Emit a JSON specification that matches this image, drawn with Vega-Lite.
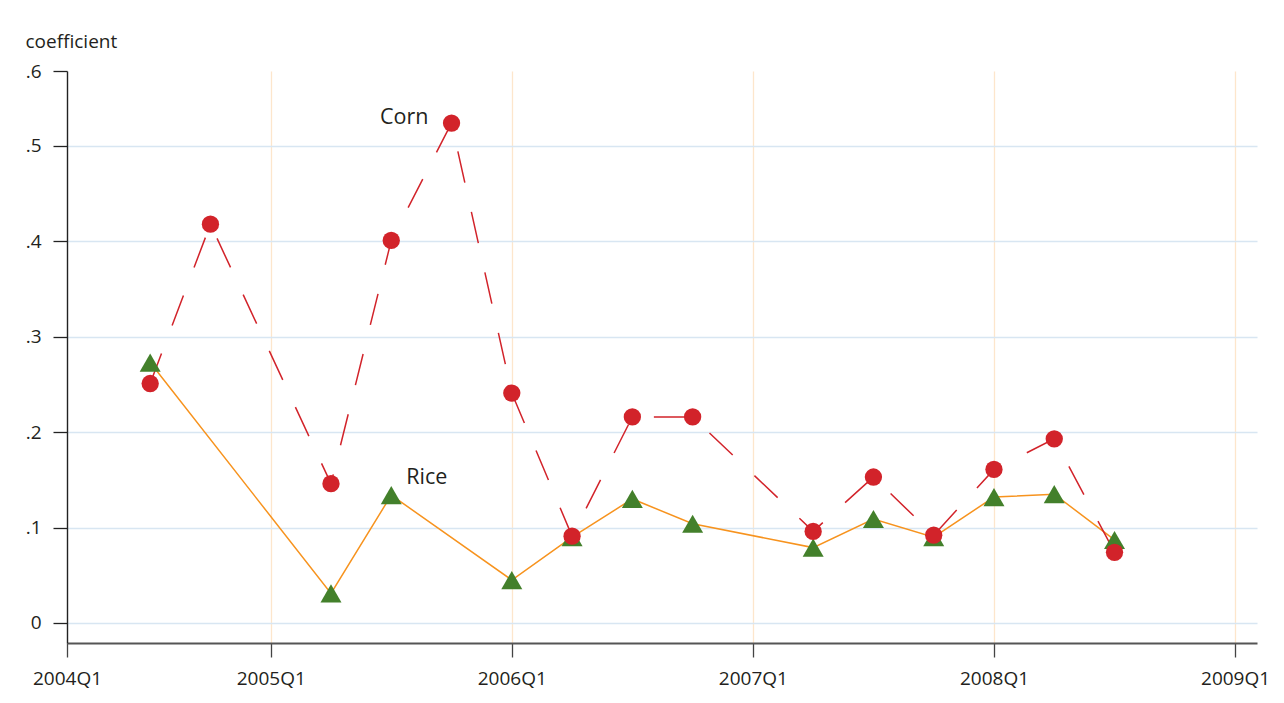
{
  "$schema": "https://vega.github.io/schema/vega-lite/v6.json",
  "width": 1190,
  "height": 572,
  "autosize": {"type": "none"},
  "padding": {"left": 67, "top": 71, "right": 27, "bottom": 60},
  "background": "white",
  "config": {
    "view": {"stroke": null},
    "font": "Open Sans",
    "axis": {"labelFont": "Open Sans", "titleFont": "Open Sans", "labelColor": "#231f20", "titleColor": "#231f20"}
  },
  "data": {
    "values": [
      {"quarter": "2004Q3", "t": 2004.5, "series": "Corn", "value": 0.251},
      {"quarter": "2004Q4", "t": 2004.75, "series": "Corn", "value": 0.418},
      {"quarter": "2005Q2", "t": 2005.25, "series": "Corn", "value": 0.146},
      {"quarter": "2005Q3", "t": 2005.5, "series": "Corn", "value": 0.401},
      {"quarter": "2005Q4", "t": 2005.75, "series": "Corn", "value": 0.524},
      {"quarter": "2006Q1", "t": 2006.0, "series": "Corn", "value": 0.241},
      {"quarter": "2006Q2", "t": 2006.25, "series": "Corn", "value": 0.091},
      {"quarter": "2006Q3", "t": 2006.5, "series": "Corn", "value": 0.216},
      {"quarter": "2006Q4", "t": 2006.75, "series": "Corn", "value": 0.216},
      {"quarter": "2007Q2", "t": 2007.25, "series": "Corn", "value": 0.096},
      {"quarter": "2007Q3", "t": 2007.5, "series": "Corn", "value": 0.153},
      {"quarter": "2007Q4", "t": 2007.75, "series": "Corn", "value": 0.092},
      {"quarter": "2008Q1", "t": 2008.0, "series": "Corn", "value": 0.161},
      {"quarter": "2008Q2", "t": 2008.25, "series": "Corn", "value": 0.193},
      {"quarter": "2008Q3", "t": 2008.5, "series": "Corn", "value": 0.074},
      {"quarter": "2004Q3", "t": 2004.5, "series": "Rice", "value": 0.273},
      {"quarter": "2005Q2", "t": 2005.25, "series": "Rice", "value": 0.031},
      {"quarter": "2005Q3", "t": 2005.5, "series": "Rice", "value": 0.134},
      {"quarter": "2006Q1", "t": 2006.0, "series": "Rice", "value": 0.045},
      {"quarter": "2006Q2", "t": 2006.25, "series": "Rice", "value": 0.09},
      {"quarter": "2006Q3", "t": 2006.5, "series": "Rice", "value": 0.13},
      {"quarter": "2006Q4", "t": 2006.75, "series": "Rice", "value": 0.104},
      {"quarter": "2007Q2", "t": 2007.25, "series": "Rice", "value": 0.079},
      {"quarter": "2007Q3", "t": 2007.5, "series": "Rice", "value": 0.109},
      {"quarter": "2007Q4", "t": 2007.75, "series": "Rice", "value": 0.09},
      {"quarter": "2008Q1", "t": 2008.0, "series": "Rice", "value": 0.132},
      {"quarter": "2008Q2", "t": 2008.25, "series": "Rice", "value": 0.135},
      {"quarter": "2008Q3", "t": 2008.5, "series": "Rice", "value": 0.087}
    ]
  },
  "encoding": {
    "x": {
      "field": "t",
      "type": "quantitative",
      "scale": {"domain": [2004.155, 2009.091], "nice": false, "zero": false},
      "axis": {
        "title": null,
        "values": [2004.155, 2005, 2006, 2007, 2008, 2009],
        "labelExpr": "floor(datum.value) + 'Q1'",
        "labelFontSize": 19,
        "labelPadding": 12,
        "tickSize": 14,
        "tickColor": "#444444",
        "tickWidth": 1.3,
        "domainColor": "#555555",
        "domainWidth": 1.8,
        "grid": true,
        "gridColor": {"condition": {"test": "datum.value < 2004.5", "value": "transparent"}, "value": "#fde6cc"},
        "gridWidth": 1.3,
        "labelFlush": false,
        "labelOverlap": false
      }
    },
    "y": {
      "field": "value",
      "type": "quantitative",
      "scale": {"domain": [-0.021, 0.5786], "nice": false, "zero": false},
      "axis": {
        "title": "coefficient",
        "titleAngle": 0,
        "titleAlign": "left",
        "titleBaseline": "alphabetic",
        "titleX": -42,
        "titleY": -24,
        "titleFontSize": 19,
        "titleFontWeight": "normal",
        "values": [0, 0.1, 0.2, 0.3, 0.4, 0.5, 0.5786],
        "labelExpr": "datum.value == 0 ? '0' : (datum.value > 0.55 ? '.6' : replace(format(datum.value, '.1f'), '0.', '.'))",
        "labelFontSize": 19,
        "labelPadding": 12,
        "tickSize": 14,
        "tickColor": "#222222",
        "tickWidth": 1.3,
        "domainColor": "#222222",
        "domainWidth": 1.4,
        "grid": true,
        "gridColor": {"condition": {"test": "datum.value > 0.55", "value": "transparent"}, "value": "#d8e6f2"},
        "gridWidth": 1.3,
        "labelFlush": false,
        "labelOverlap": false
      }
    }
  },
  "layer": [
    {
      "transform": [{"filter": "datum.series == 'Rice'"}],
      "mark": {"type": "line", "color": "#f7931e", "strokeWidth": 1.5},
      "encoding": {}
    },
    {
      "transform": [{"filter": "datum.series == 'Corn'"}],
      "mark": {"type": "line", "color": "#d2232a", "strokeWidth": 1.5, "strokeDash": [32, 30]},
      "encoding": {}
    },
    {
      "transform": [{"filter": "datum.series == 'Rice'"}],
      "mark": {"type": "point", "shape": "triangle-up", "filled": true, "size": 441, "color": "#43802b", "opacity": 1},
      "encoding": {}
    },
    {
      "transform": [{"filter": "datum.series == 'Corn'"}],
      "mark": {"type": "point", "shape": "circle", "filled": true, "size": 300, "color": "#d2232a", "opacity": 1},
      "encoding": {}
    },
    {
      "transform": [{"filter": "datum.series == 'Corn' && datum.quarter == '2005Q4'"}],
      "mark": {"type": "text", "align": "right", "baseline": "middle", "dx": -23, "dy": -5, "fontSize": 21.5, "font": "Open Sans", "color": "#231f20"},
      "encoding": {"text": {"field": "series"}}
    },
    {
      "transform": [{"filter": "datum.series == 'Rice' && datum.quarter == '2005Q3'"}],
      "mark": {"type": "text", "align": "left", "baseline": "middle", "dx": 15, "dy": -17, "fontSize": 21.5, "font": "Open Sans", "color": "#231f20"},
      "encoding": {"text": {"field": "series"}}
    }
  ]
}
